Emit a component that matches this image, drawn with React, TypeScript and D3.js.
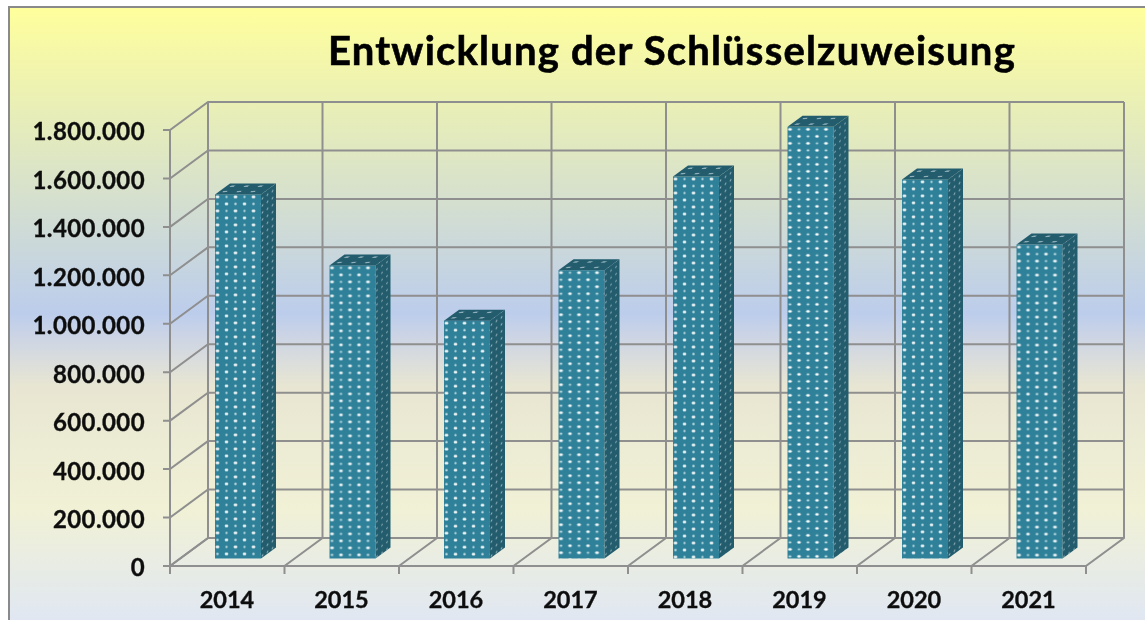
import React from "react";
import * as d3 from "d3";

const TITLE = "Entwicklung der Schlüsselzuweisung";
const years = ["2014", "2015", "2016", "2017", "2018", "2019", "2020", "2021"];
const values = [1503000, 1210000, 982000, 1190000, 1577000, 1782000, 1565000, 1296000];
const yTicks = [0, 200000, 400000, 600000, 800000, 1000000, 1200000, 1400000, 1600000, 1800000];

const W = 1145;
const H = 620;
const frontLeft = 170;
const frontRight = 1086;
const frontBottom = 566;
const frontTop = 130;
const depthX = 38;
const depthY = 28;
const barDepthX = 15;
const barDepthY = 11;
const barInset = 7.5;
const GRID = "#8f8f8f";

const de = d3.formatLocale({ decimal: ",", thousands: ".", grouping: [3], currency: ["", " €"] });
const fmt = de.format(",d");

const x = d3.scaleBand<string>().domain(years).range([frontLeft, frontRight]).paddingInner(0).paddingOuter(0);
const y = d3.scaleLinear().domain([0, 1800000]).range([frontBottom, frontTop]);
const FONT = "Lato, Carlito, 'Open Sans', sans-serif";

export default function App() {
  const step = x.step();
  const barW = 46;
  const barLeftOffset = 45;
  const barBase = frontBottom - barInset;
  const backX = (v: number) => v + depthX;
  const backY = (v: number) => v - depthY;
  return (
    <svg width={W} height={H} viewBox={`0 0 ${W} ${H}`} style={{ position: "absolute", left: 0, top: 0, display: "block" }}>
      <defs>
        <linearGradient id="bg" x1="0" y1="0" x2="0" y2="1">
          <stop offset="0" stopColor="#ffff9c" />
          <stop offset="0.5" stopColor="#bccdec" />
          <stop offset="0.54" stopColor="#cdd5e4" />
          <stop offset="0.62" stopColor="#e8e6d2" />
          <stop offset="0.82" stopColor="#f1f1d6" />
          <stop offset="1" stopColor="#e0e7f2" />
        </linearGradient>
        <pattern id="front" width="18" height="14" patternUnits="userSpaceOnUse" x="-2" y="-1">
          <rect width="18" height="14" fill="#2f8199" />
          <ellipse cx="4.5" cy="3.5" rx="1.9" ry="1.3" fill="#ffffff" />
          <ellipse cx="13.5" cy="3.5" rx="1.2" ry="0.9" fill="#c4e0e6" />
          <ellipse cx="4.5" cy="10.5" rx="1.3" ry="0.9" fill="#d8ebef" />
          <ellipse cx="13.5" cy="10.5" rx="1.8" ry="1.2" fill="#ffffff" />
        </pattern>
        <pattern id="side" width="5" height="7" patternUnits="userSpaceOnUse" patternTransform="skewY(-36)">
          <rect width="5" height="7" fill="#235c6d" />
          <ellipse cx="2.5" cy="3.5" rx="0.8" ry="1.1" fill="#8fb0ba" />
        </pattern>
        <pattern id="top" width="14" height="5.5" patternUnits="userSpaceOnUse" patternTransform="skewX(-54)">
          <rect width="14" height="5.5" fill="#235c6d" />
          <ellipse cx="6" cy="2.7" rx="2.4" ry="0.8" fill="#8fb0ba" />
        </pattern>
        <filter id="soft" x="-5%" y="-5%" width="110%" height="110%">
          <feGaussianBlur stdDeviation="0.4" />
        </filter>
      </defs>

      <rect x={0} y={0} width={W} height={H} fill="#ffffff" />
      <rect x={8} y={7} width={W - 8} height={H - 7} fill="url(#bg)" />
      <path d={`M9,${H}V7H${W}`} fill="none" stroke="#8a8a8a" strokeWidth={2} />

      <text x={672} y={65} textAnchor="middle" fontFamily={FONT} fontWeight={700} fontSize={40} letterSpacing={1.2} fill="#000" stroke="#000" strokeWidth={0.6} style={{ filter: "url(#soft)" }}>
        {TITLE}
      </text>

      <g stroke={GRID} strokeWidth={2} fill="none" filter="url(#soft)">
        {yTicks.map((t) => (
          <path key={t} d={`M${frontLeft - 7},${y(t)}H${frontLeft}L${backX(frontLeft)},${backY(y(t))}H${backX(frontRight)}`} />
        ))}
        {[...years, "end"].map((yr, i) => {
          const fx = frontLeft + i * step;
          return (
            <path key={yr} d={`M${fx},${frontBottom + 8}V${frontBottom}L${backX(fx)},${backY(frontBottom)}V${backY(frontTop)}`} />
          );
        })}
        <path d={`M${frontLeft},${frontTop}V${frontBottom}H${frontRight}`} />
      </g>

      <g filter="url(#soft)">
        {years.map((yr, i) => {
          const l = (x(yr) as number) + barLeftOffset;
          const top = y(values[i]) - barInset;
          const h = barBase - top;
          return (
            <g key={yr} transform={`translate(${l},${top})`}>
              <rect x={0} y={0} width={barW} height={h} fill="url(#front)" />
              <path d={`M${barW},0L${barW + barDepthX},${-barDepthY}V${h - barDepthY}L${barW},${h}Z`} fill="url(#side)" />
              <path d={`M0,0L${barDepthX},${-barDepthY}H${barW + barDepthX}L${barW},0Z`} fill="url(#top)" />
            </g>
          );
        })}
      </g>

      <g fontFamily={FONT} fontWeight={700} fill="#111" stroke="#111" strokeWidth={0.35} style={{ filter: "url(#soft)" }}>
        {yTicks.map((t) => (
          <text key={t} x={145} y={y(t) + 2} dy="0.35em" textAnchor="end" fontSize={24} letterSpacing={0.4}>
            {fmt(t)}
          </text>
        ))}
        {years.map((yr) => (
          <text key={yr} x={(x(yr) as number) + 57} y={608} textAnchor="middle" fontSize={23.5}>
            {yr}
          </text>
        ))}
      </g>
    </svg>
  );
}
